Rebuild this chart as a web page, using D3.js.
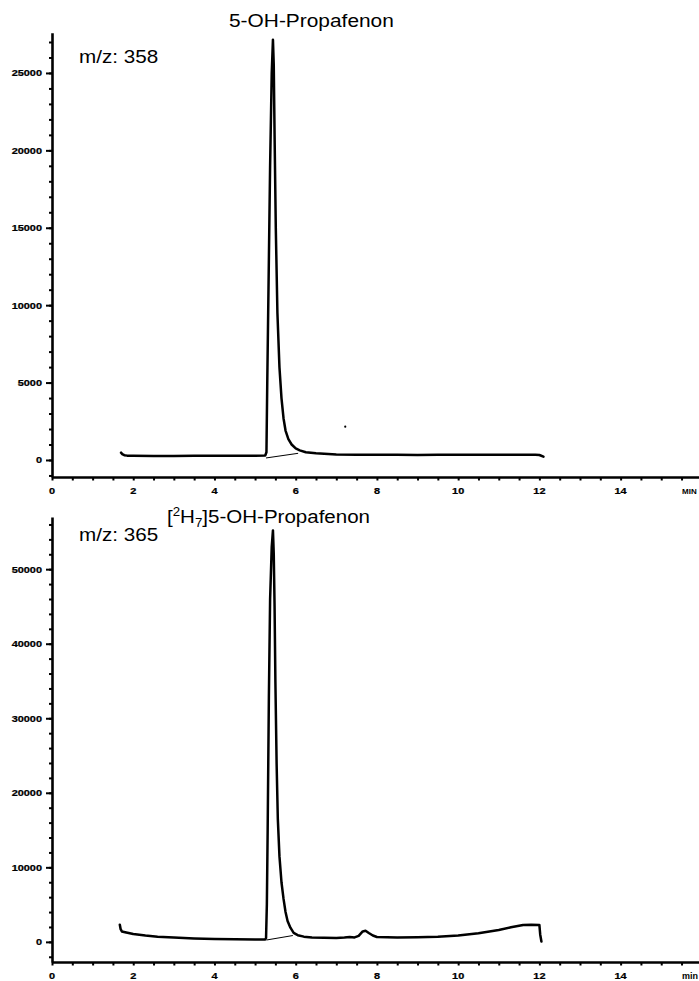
<!DOCTYPE html>
<html><head><meta charset="utf-8">
<script src="https://cdn.jsdelivr.net/npm/d3@7"></script>
<style>
body{margin:0;background:#fff;}
text{font-family:"Liberation Sans",Arial,Helvetica,sans-serif;fill:#000;}
</style>
</head><body>
<svg id="c" width="699" height="981"></svg>
<script>
// ---- data ----
const time358  = [1.70,1.73,1.78,1.85,2.0,2.5,3.0,3.5,4.0,4.5,5.0,5.25,5.28,5.30,5.33,5.37,5.41,5.44,5.46,5.48,5.51,5.55,5.60,5.65,5.70,5.75,5.82,5.90,6.0,6.1,6.25,6.5,7.0,7.5,8.0,8.5,9.0,9.5,10.0,10.5,11.0,11.5,11.9,12.0,12.1];
const value358 = [470,380,310,280,270,260,260,265,270,275,280,290,500,5000,11000,19000,25000,27150,25500,21000,15000,9500,6000,4000,2700,1900,1350,1000,750,620,500,430,360,340,330,330,320,330,335,340,345,345,340,320,210];
const base358T = [5.27, 6.06];
const base358V = [130, 430];
const dot358 = [7.22, 2150];

const time365  = [1.67,1.69,1.72,1.8,2.0,2.3,2.6,3.0,3.5,4.0,4.5,5.0,5.25,5.27,5.29,5.31,5.34,5.37,5.41,5.44,5.46,5.48,5.50,5.53,5.56,5.60,5.65,5.70,5.75,5.80,5.87,5.95,6.05,6.2,6.4,6.7,7.0,7.2,7.33,7.45,7.55,7.65,7.72,7.8,7.9,8.0,8.5,9.0,9.5,10.0,10.5,11.0,11.3,11.6,11.8,12.0,12.02,12.05];
const value365 = [2300,1700,1400,1300,1050,850,700,580,450,380,340,320,330,500,5000,15000,33000,46000,53000,55200,52000,45000,35000,24000,16500,11500,8000,5800,4000,2800,1900,1200,900,700,600,550,520,580,650,600,800,1400,1500,1200,850,650,600,620,700,850,1150,1600,1950,2250,2300,2280,1000,50];
const base365T = [5.28, 5.93];
const base365V = [250, 850];

const xMajor = [0,2,4,6,8,10,12,14];
const xMinor = d3.range(0, 15.75, 0.5);
const yMajor358 = [0,5000,10000,15000,20000,25000];
const yMinor358 = d3.range(-1000, 27001, 1000);
const yMajor365 = [0,10000,20000,30000,40000,50000];
const yMinor365 = d3.range(-2000, 56001, 2000);

// ---- layout ----
const svg = d3.select("#c");
const x = d3.scaleLinear().domain([0, 15.93]).range([52, 699]);

const panels = [
  {t: time358, v: value358, bt: base358T, bv: base358V, dot: dot358,
   yDomain: [-1100, 27600], yRange: [477, 32.7], yMajor: yMajor358, yMinor: yMinor358,
   xLabelY: 494, unit: "MIN", unitSize: 8, title: "5-OH-Propafenon", titleX: 229, titleY: 26.5,
   mz: "m/z: 358", mzY: 63},
  {t: time365, v: value365, bt: base365T, bv: base365V, dot: null,
   yDomain: [-2700, 57000], yRange: [962, 517], yMajor: yMajor365, yMinor: yMinor365,
   xLabelY: 979, unit: "min", unitSize: 9, title: null, titleX: 167, titleY: 523,
   mz: "m/z: 365", mzY: 541}
];

function styleAxis(sel, w) {
  sel.select(".domain").attr("stroke", "#000").attr("stroke-width", 2.6);
  sel.selectAll(".tick line").attr("stroke", "#000").attr("stroke-width", w);
}

panels.forEach((p, i) => {
  const y = d3.scaleLinear().domain(p.yDomain).range(p.yRange);
  const g = svg.append("g");
  const ax = x(0);
  const ay = y(p.yDomain[0]);

  // y axis
  g.append("g").attr("transform", `translate(${ax},0)`)
    .call(d3.axisLeft(y).tickValues(p.yMinor).tickSize(3).tickSizeOuter(0).tickFormat(""))
    .call(s => styleAxis(s, 2));
  g.append("g").attr("transform", `translate(${ax},0)`)
    .call(d3.axisLeft(y).tickValues(p.yMajor).tickSize(6).tickSizeOuter(0).tickFormat(""))
    .call(s => { styleAxis(s, 2); s.select(".domain").remove(); });

  // x axis
  g.append("g").attr("transform", `translate(0,${ay})`)
    .call(d3.axisBottom(x).tickValues(xMinor).tickSize(3.5).tickSizeOuter(0).tickFormat(""))
    .call(s => styleAxis(s, 2));

  // y labels
  g.selectAll(".yl").data(p.yMajor).join("text")
    .attr("transform", d => `translate(42,${y(d) + 3.4}) scale(1.15,1)`)
    .attr("text-anchor", "end").attr("font-size", 9.5).attr("font-weight", "bold")
    .attr("stroke", "#000").attr("stroke-width", 0.25)
    .text(d => d);

  // x labels
  g.selectAll(".xl").data(xMajor).join("text")
    .attr("transform", d => `translate(${x(d)},${p.xLabelY}) scale(1.15,1)`)
    .attr("text-anchor", "middle").attr("font-size", 9.5).attr("font-weight", "bold")
    .attr("stroke", "#000").attr("stroke-width", 0.25)
    .text(d => d);
  g.append("text")
    .attr("transform", `translate(682,${p.xLabelY})`)
    .attr("font-size", p.unitSize).attr("font-weight", "bold")
    .text(p.unit);

  // trace
  const pts = p.t.map((t, k) => [t, p.v[k]]);
  const line = d3.line().x(d => x(d[0])).y(d => y(d[1]));
  g.append("path").datum(pts).attr("d", line)
    .attr("fill", "none").attr("stroke", "#000").attr("stroke-width", 2.5)
    .attr("stroke-linejoin", "round").attr("stroke-linecap", "round");

  // integration baseline
  const bpts = p.bt.map((t, k) => [t, p.bv[k]]);
  g.append("path").datum(bpts).attr("d", line)
    .attr("fill", "none").attr("stroke", "#000").attr("stroke-width", 1);

  if (p.dot) {
    g.append("circle").attr("cx", x(p.dot[0])).attr("cy", y(p.dot[1])).attr("r", 1.1).attr("fill", "#000");
  }

  // m/z label
  g.append("text")
    .attr("transform", `translate(79,${p.mzY}) scale(1.18,1)`)
    .attr("font-size", 17.5)
    .text(p.mz);

  // title
  if (i === 0) {
    g.append("text")
      .attr("transform", `translate(${p.titleX},${p.titleY}) scale(1.13,1)`)
      .attr("font-size", 18.5)
      .text(p.title);
  } else {
    const tt = g.append("text")
      .attr("transform", `translate(${p.titleX},${p.titleY}) scale(1.11,1)`)
      .attr("font-size", 18.5);
    tt.append("tspan").text("[");
    tt.append("tspan").attr("font-size", 12).attr("dy", -7).text("2");
    tt.append("tspan").attr("dy", 7).text("H");
    tt.append("tspan").attr("font-size", 12).attr("dy", 4).text("7");
    tt.append("tspan").attr("dy", -4).text("]5-OH-Propafenon");
  }
});
</script>
</body></html>
